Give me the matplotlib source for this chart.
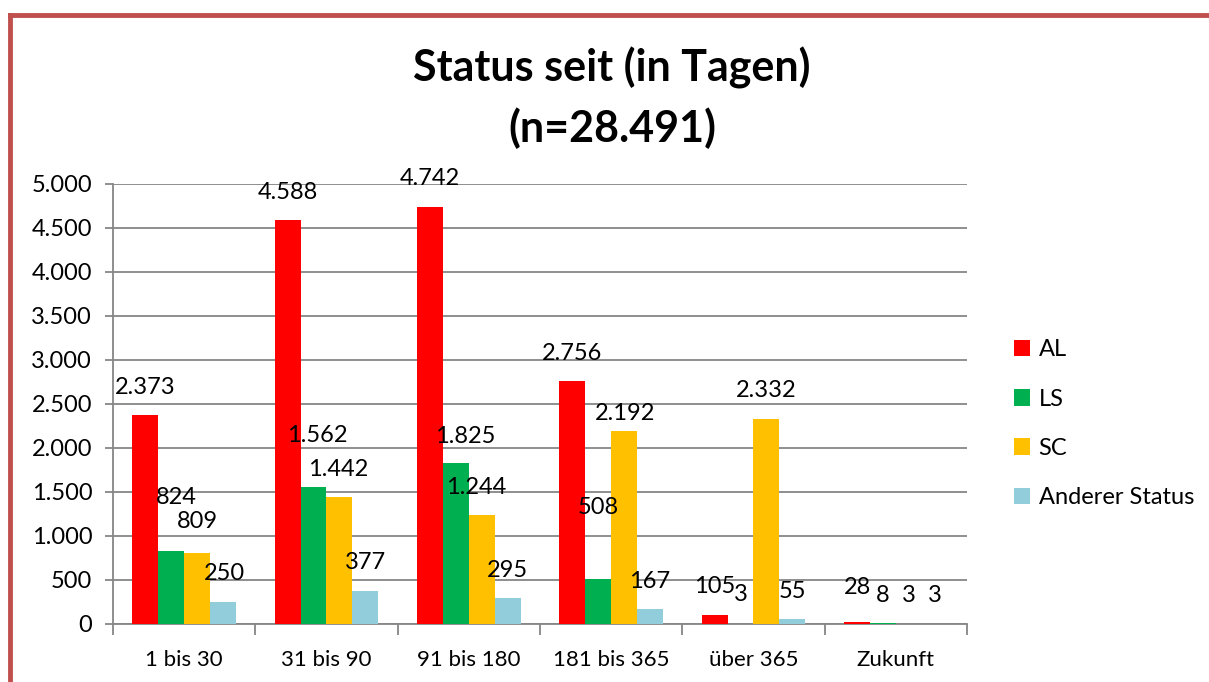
import numpy as np
import matplotlib
matplotlib.use('Agg')
import matplotlib.pyplot as plt
from matplotlib.lines import Line2D

# Data
categories = ['1 bis 30', '31 bis 90', '91 bis 180', '181 bis 365', 'über 365', 'Zukunft']
series_names = ['AL', 'LS', 'SC', 'Anderer Status']
al = [2373, 4588, 4742, 2756, 105, 28]
ls = [824, 1562, 1825, 508, 3, 8]
sc = [809, 1442, 1244, 2192, 2332, 3]
other = [250, 377, 295, 167, 55, 3]
yticks = [0, 500, 1000, 1500, 2000, 2500, 3000, 3500, 4000, 4500, 5000]
ytick_labels = ['0', '500', '1.000', '1.500', '2.000', '2.500', '3.000', '3.500', '4.000', '4.500', '5.000']

colors = ['#FF0000', '#00B050', '#FFC000', '#92CDDC']

# label offsets above bar top in pixels (Excel placed some by hand)
label_dy = [
    [28, 28, 28, 28, 28, 34],
    [54, 51, 27, 72, 29, 28],
    [31, 28, 27, 18, 28, 28],
    [28, 28, 28, 28, 28, 28],
]
label_dx = [
    [0, 0, 0, 0, 0, 0],
    [5, 4, 9, 0, 0, 0],
    [0, -1, -6, 1, 0, 0],
    [1, 0, 0, 0, 0, 0],
]

def fmt(v):
    return f"{v:,}".replace(',', '.')

plt.rcParams['font.family'] = ['Lato', 'DejaVu Sans']

fig = plt.figure(figsize=(12.09, 6.82), dpi=100)
ax = fig.add_axes([113 / 1209, 58 / 682, 854 / 1209, 440 / 682])

x = np.arange(len(categories))
w = 1 / 5.5
all_series = [al, ls, sc, other]
handles = []
for i, vals in enumerate(all_series):
    pos = x + (i - 1.5) * w
    b = ax.bar(pos, vals, width=w, color=colors[i], label=series_names[i], zorder=3)
    handles.append(b)
    for j, v in enumerate(vals):
        ax.annotate(fmt(v), (pos[j], v), xytext=(label_dx[i][j], label_dy[i][j]),
                    textcoords='offset pixels', ha='center', va='center',
                    fontsize=17, color='black', zorder=4)

ax.set_xlim(-0.5, len(categories) - 0.5)
ax.set_ylim(0, 5000)
ax.set_yticks(yticks)
ax.set_yticklabels(ytick_labels, fontsize=17)
ax.yaxis.grid(True, color='#868686', linewidth=1.3, zorder=0)
ax.set_axisbelow(True)

ax.set_xticks(x)
ax.set_xticklabels(categories, fontsize=16)
ax.tick_params(axis='x', length=0, pad=19)
ax.set_xticks(np.arange(len(categories) + 1) - 0.5, minor=True)
ax.tick_params(axis='x', which='minor', length=8, color='#868686', width=1.3)
ax.tick_params(axis='y', length=6, color='#868686', width=1.3, pad=9)

for s in ['top', 'right']:
    ax.spines[s].set_visible(False)
for s in ['left', 'bottom']:
    ax.spines[s].set_color('#868686')
    ax.spines[s].set_linewidth(1.3)

ax.legend(handles=handles, loc='center left', bbox_to_anchor=(1.03, 0.455), frameon=False,
          fontsize=17, handlelength=0.7, handleheight=0.7, handletextpad=0.35,
          labelspacing=1.2)

fig.text(612 / 1209, 1 - 68 / 682, 'Status seit (in Tagen)', ha='center', va='center',
         fontsize=31, fontweight='bold')
fig.text(612 / 1209, 1 - 128 / 682, '(n=28.491)', ha='center', va='center',
         fontsize=31, fontweight='bold')

# red frame (left and top edges visible)
fig.add_artist(Line2D([10 / 1209, 10 / 1209], [0, 1 - 15 / 682], transform=fig.transFigure,
                      color='#C0504D', linewidth=3.5, solid_capstyle='projecting'))
fig.add_artist(Line2D([10 / 1209, 1], [1 - 15 / 682, 1 - 15 / 682], transform=fig.transFigure,
                      color='#C0504D', linewidth=3.5, solid_capstyle='projecting'))

fig.savefig('out.png', dpi=100)
